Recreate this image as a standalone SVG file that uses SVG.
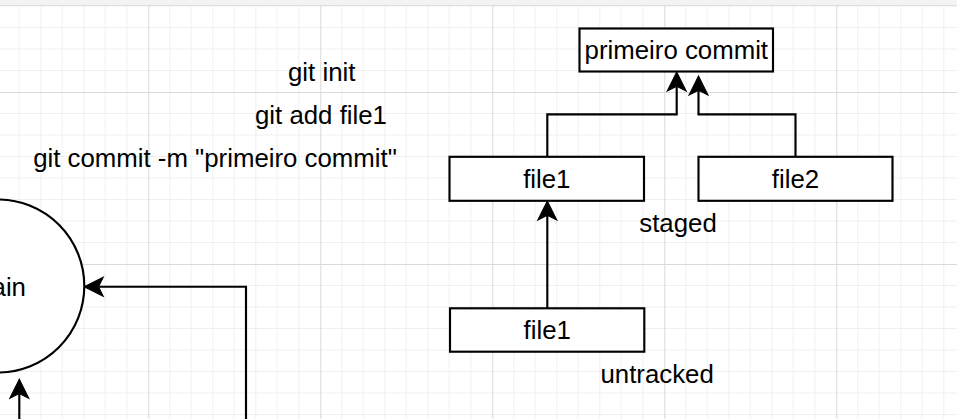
<svg xmlns="http://www.w3.org/2000/svg" width="957" height="419" viewBox="0 0 957 419">
<style>
.box{fill:#fff;stroke:#000;stroke-width:2.15}
.lbl{font-family:"Liberation Sans",Arial,Helvetica,sans-serif;font-size:25.8px;fill:#000}
.mid{text-anchor:middle}
.edge{fill:none;stroke:#000;stroke-width:2.15;marker-end:url(#arr)}
.minor{stroke:#efefef;stroke-width:1}
.major{stroke:#d9d9d9;stroke-width:1}
</style>
<defs>
<marker id="arr" markerUnits="userSpaceOnUse" markerWidth="19" markerHeight="19" viewBox="0 0 18 18" refX="4.5" refY="9" orient="auto" overflow="visible">
<path d="M18,9 L0,0 L4.5,9 L0,18 Z" fill="#000" stroke="#000" stroke-width="1" stroke-linejoin="miter"/>
</marker>
<pattern id="grid" patternUnits="userSpaceOnUse" x="148.3" y="92" width="172" height="172">
<g class="minor">
<line x1="21.5" y1="0" x2="21.5" y2="172"/><line x1="43" y1="0" x2="43" y2="172"/><line x1="64.5" y1="0" x2="64.5" y2="172"/><line x1="86" y1="0" x2="86" y2="172"/><line x1="107.5" y1="0" x2="107.5" y2="172"/><line x1="129" y1="0" x2="129" y2="172"/><line x1="150.5" y1="0" x2="150.5" y2="172"/>
<line y1="21.5" x1="0" y2="21.5" x2="172"/><line y1="43" x1="0" y2="43" x2="172"/><line y1="64.5" x1="0" y2="64.5" x2="172"/><line y1="86" x1="0" y2="86" x2="172"/><line y1="107.5" x1="0" y2="107.5" x2="172"/><line y1="129" x1="0" y2="129" x2="172"/><line y1="150.5" x1="0" y2="150.5" x2="172"/>
</g>
<g class="major"><line x1="0.5" y1="0" x2="0.5" y2="172"/><line x1="0" y1="0.5" x2="172" y2="0.5"/></g>
</pattern>
</defs>
<rect x="0" y="0" width="957" height="419" fill="#fff"/>
<rect x="0" y="6" width="957" height="413" fill="url(#grid)"/>
<rect x="0" y="0" width="957" height="5" fill="#f3f3f5"/>
<line x1="0" y1="5.5" x2="957" y2="5.5" stroke="#dedede" stroke-width="1"/>

<g id="connectors">
<path class="edge" d="M547.3,156.7 V114.3 H676.7 V86.2"/>
<path class="edge" d="M795.5,156.7 V114.3 H698.5 V90.2"/>
<path class="edge" d="M547.3,308.3 V215.2"/>
<path class="edge" d="M246,419 V286.7 H98.5"/>
<path class="edge" d="M19.3,419 V393.5"/>
</g>

<g id="node-main">
<circle class="box" cx="-2.2" cy="286" r="86.5"/>
<text class="lbl mid" x="-2" y="295.5">main</text>
</g>

<g id="node-cmd-init"><text class="lbl mid" x="321.7" y="80.8">git init</text></g>
<g id="node-cmd-add"><text class="lbl mid" x="321" y="123.8">git add file1</text></g>
<g id="node-cmd-commit"><text class="lbl mid" x="215" y="166.8">git commit -m "primeiro commit"</text></g>

<g id="node-commit">
<rect class="box" x="579.5" y="28.5" width="193.5" height="43"/>
<text class="lbl mid" x="676.3" y="59.2">primeiro commit</text>
</g>

<g id="node-file1-staged">
<rect class="box" x="449.5" y="156.8" width="194.5" height="44"/>
<text class="lbl mid" x="546.8" y="188">file1</text>
</g>

<g id="node-file2">
<rect class="box" x="698.5" y="156.8" width="194" height="44"/>
<text class="lbl mid" x="795.5" y="188">file2</text>
</g>

<g id="node-file1-untracked">
<rect class="box" x="450" y="308.3" width="194.3" height="43.4"/>
<text class="lbl mid" x="547.2" y="339.3">file1</text>
</g>

<g id="node-staged-label"><text class="lbl" x="639.3" y="231.7">staged</text></g>
<g id="node-untracked-label"><text class="lbl" x="600.5" y="382.7">untracked</text></g>
</svg>
